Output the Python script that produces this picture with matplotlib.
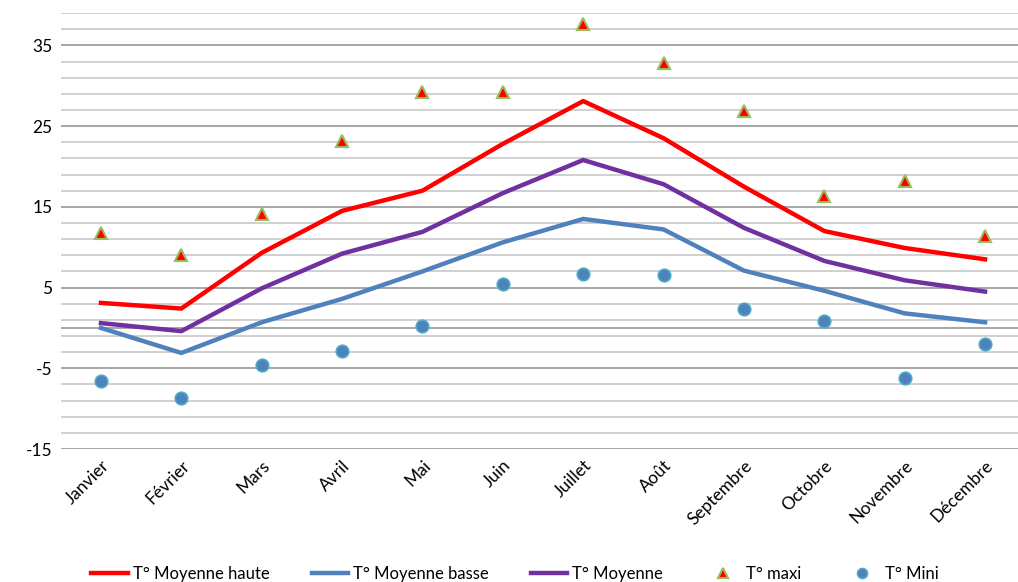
import matplotlib.pyplot as plt
import numpy as np

plt.rcParams["font.family"] = ["Lato", "DejaVu Sans"]
plt.rcParams["axes.unicode_minus"] = False

months = ["Janvier", "Février", "Mars", "Avril", "Mai", "Juin", "Juillet",
          "Août", "Septembre", "Octobre", "Novembre", "Décembre"]
moy_haute = [3.1, 2.4, 9.3, 14.5, 17.0, 22.8, 28.1, 23.5, 17.5, 12.0, 9.9, 8.5]
moy_basse = [0.0, -3.1, 0.7, 3.6, 7.0, 10.6, 13.5, 12.2, 7.1, 4.6, 1.8, 0.7]
moyenne = [0.6, -0.4, 4.9, 9.2, 11.9, 16.7, 20.8, 17.8, 12.4, 8.3, 5.9, 4.5]
t_maxi = [11.7, 9.0, 14.1, 23.1, 29.2, 29.2, 37.6, 32.8, 26.9, 16.4, 18.2, 11.4]
t_mini = [-6.6, -8.7, -4.6, -2.8, 0.3, 5.5, 6.7, 6.5, 2.3, 0.8, -6.2, -2.0]

x = np.arange(len(months))

fig = plt.figure(figsize=(10.18, 5.82), dpi=100)
ax = fig.add_axes([0.0597, 0.2285, 0.9403, 0.749])

# grid: minor every 2, darker every 10
for v in range(-15, 40, 2):
    major = (v + 15) % 10 == 0
    ax.axhline(v, color="#A6A6A6" if major else "#D0D0D0", lw=1.4, zorder=0)
ax.axhline(0, color="#A6A6A6", lw=1.4, zorder=0)

ax.plot(x, moy_haute, color="#FF0000", lw=3.2, label="T° Moyenne haute", zorder=3)
ax.plot(x, moy_basse, color="#4F81BD", lw=3.2, label="T° Moyenne basse", zorder=3)
ax.plot(x, moyenne, color="#7030A0", lw=3.2, label="T° Moyenne", zorder=3)
ax.plot(x, t_maxi, ls="none", marker="^", ms=9, mfc="#FF0000", mec="#9BBB59",
        mew=1.5, label="T° maxi", zorder=4)
ax.plot(x, t_mini, ls="none", marker="o", ms=9, mfc="#4F81BD", mec="#4BACC6",
        mew=1.2, label="T° Mini", zorder=4)

ax.set_xlim(-0.5, 11.41)
ax.set_ylim(-15, 39)
ax.set_yticks(range(-15, 36, 10))
ax.set_xticks(x)
ax.set_xticklabels(months, rotation=45, ha="right", rotation_mode="anchor")
ax.tick_params(length=0, labelsize=12.5, pad=6)
for s in ax.spines.values():
    s.set_visible(False)

leg = fig.legend(loc="lower center", bbox_to_anchor=(0.506, -0.025), ncol=5,
                 frameon=False, fontsize=12, handlelength=2.2, columnspacing=2.5,
                 handletextpad=0.3, markerscale=0.8)

fig.savefig("out.png", dpi=100)
